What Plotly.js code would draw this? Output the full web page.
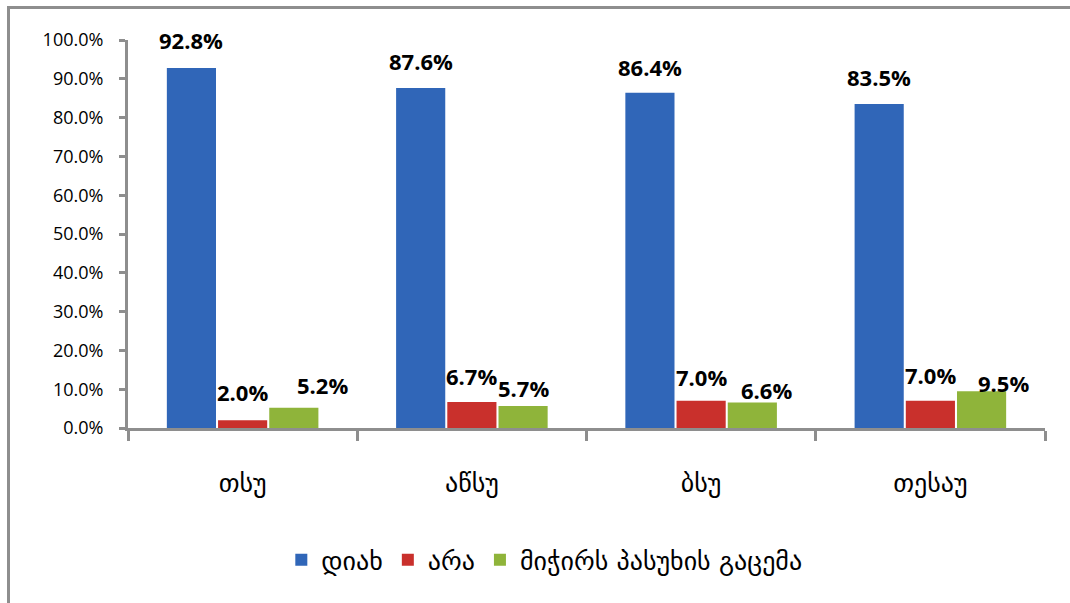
<!DOCTYPE html>
<html>
<head>
<meta charset="utf-8">
<script src="https://cdn.plot.ly/plotly-3.0.1.min.js"></script>
<style>
  html, body { margin: 0; padding: 0; background: #ffffff; }
  #wrap { position: relative; width: 1070px; height: 603px; overflow: hidden; }
  #frame { position: absolute; left: 7px; top: 6px; width: 1080px; height: 620px;
           border-left: 3px solid #8e8e8e; border-top: 3px solid #8e8e8e; box-sizing: border-box; }
  #chart { position: absolute; left: 0; top: 0; width: 1070px; height: 603px; }
</style>
</head>
<body>
<div id="wrap">
  <div id="frame"></div>
  <div id="chart"></div>
</div>
<script>
const categories = ["თსუ", "აწსუ", "ბსუ", "თესაუ"];
const seriesNames = ["დიახ", "არა", "მიჭირს პასუხის გაცემა"];
const yesValues = [92.8, 87.6, 86.4, 83.5];
const noValues = [2.0, 6.7, 7.0, 7.0];
const hardValues = [5.2, 5.7, 6.6, 9.5];
const yTickVals = [0, 10, 20, 30, 40, 50, 60, 70, 80, 90, 100];
const yTickText = ["0.0%", "10.0%", "20.0%", "30.0%", "40.0%", "50.0%", "60.0%", "70.0%", "80.0%", "90.0%", "100.0%"];

const colors = ["#3066b8", "#c9302c", "#8fb43a"];
const seriesValues = [yesValues, noValues, hardValues];

// layout geometry (style)
const W = 1070, H = 603;
const M = {l: 128, r: 25, t: 40, b: 175};
const bargap = 0.33;
const plotW = W - M.l - M.r;
const slotPx = plotW / categories.length * (1 - bargap) / seriesNames.length;

// label nudges in px (style): [dx, dy] per series per category
const labelNudge = [
  [[0, 28], [0, 27], [0, 26], [0, 27]],
  [[0, 28], [0, 26], [0, 24], [0, 26]],
  [[29, 23], [0, 18], [14, 12], [22, 8]]
];

const data = seriesNames.map((name, s) => ({
  type: "bar",
  name: name,
  x: categories,
  y: seriesValues[s],
  marker: {color: colors[s], line: {width: 0}},
  hoverinfo: "skip"
}));

const annotations = [];
seriesValues.forEach((vals, s) => {
  vals.forEach((v, i) => {
    annotations.push({
      x: categories[i],
      y: v,
      xref: "x",
      yref: "y",
      text: "<b>" + v.toFixed(1) + "%</b>",
      showarrow: false,
      xanchor: "center",
      yanchor: "middle",
      xshift: (s - 1) * slotPx + labelNudge[s][i][0],
      yshift: labelNudge[s][i][1],
      font: {family: "Open Sans, DejaVu Sans, sans-serif", size: 22, color: "#000000"}
    });
  });
});

const layout = {
  width: W,
  height: H,
  margin: M,
  paper_bgcolor: "rgba(0,0,0,0)",
  plot_bgcolor: "rgba(0,0,0,0)",
  barmode: "group",
  bargap: bargap,
  bargroupgap: 0.04,
  showlegend: true,
  font: {family: "Open Sans, DejaVu Sans, sans-serif", color: "#000000"},
  annotations: annotations,
  xaxis: {
    type: "category",
    showline: true,
    linecolor: "#8e8e8e",
    linewidth: 3,
    ticks: "outside",
    tickson: "boundaries",
    ticklen: 10,
    tickwidth: 3,
    tickcolor: "#8e8e8e",
    showgrid: false,
    zeroline: false,
    ticklabelstandoff: 30,
    tickfont: {family: "DejaVu Sans, sans-serif", size: 26, color: "#000000"}
  },
  yaxis: {
    range: [0, 100],
    tickvals: yTickVals,
    ticktext: yTickText,
    showline: true,
    linecolor: "#8e8e8e",
    linewidth: 3,
    ticks: "outside",
    ticklen: 6,
    tickwidth: 3,
    tickcolor: "#8e8e8e",
    showgrid: false,
    zeroline: false,
    ticklabelstandoff: 12,
    tickfont: {family: "Open Sans, DejaVu Sans, sans-serif", size: 18, color: "#000000"}
  },
  legend: {
    orientation: "h",
    x: 0.454,
    xanchor: "center",
    y: -0.34,
    yanchor: "middle",
    font: {family: "DejaVu Sans, sans-serif", size: 26, color: "#000000"},
    itemclick: false,
    itemdoubleclick: false,
    bgcolor: "rgba(0,0,0,0)"
  }
};

Plotly.newPlot("chart", data, layout, {displayModeBar: false, staticPlot: true});
</script>
</body>
</html>
